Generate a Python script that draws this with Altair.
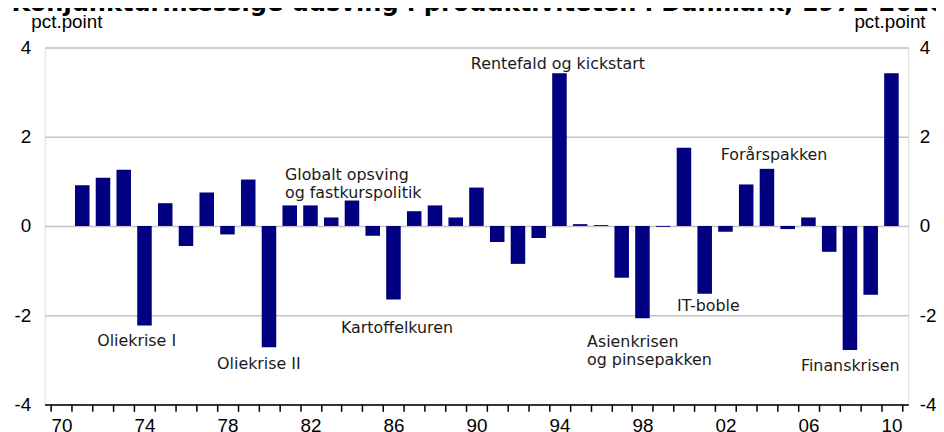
import altair as alt
import pandas as pd

# ---- data ----
years = list(range(1971, 2011))
values = [0.91, 1.08, 1.26, -2.23, 0.51, -0.45, 0.75, -0.19, 1.04, -2.72,
          0.46, 0.46, 0.19, 0.57, -0.22, -1.65, 0.33, 0.46, 0.19, 0.86,
          -0.36, -0.85, -0.27, 3.42, 0.04, 0.02, -1.16, -2.07, -0.02, 1.75,
          -1.52, -0.13, 0.93, 1.28, -0.07, 0.19, -0.58, -2.78, -1.54, 3.42]
axis_years = list(range(1970, 2011))
y_ticks = [-4, -2, 0, 2, 4]

ann_text = ["Oliekrise I", "Oliekrise II", "Globalt opsving\nog fastkurspolitik",
            "Kartoffelkuren", "Rentefald og kickstart", "Asienkrisen\nog pinsepakken",
            "IT-boble", "Forårspakken", "Finanskrisen"]
ann_x = [1972.22, 1978.0, 1981.27, 1983.97, 1990.23, 1995.83, 2000.17, 2002.27, 2006.14]
ann_y = [-2.58, -3.09, 1.13, -2.29, 3.62, -2.61, -1.80, 1.58, -3.13]

title_text = "Konjunkturmæssige udsving i produktiviteten i Danmark, 1971-2010"
unit_text = "pct.point"

bars_df = pd.DataFrame({"year": years, "value": values})
ann_df = pd.DataFrame({"label": ann_text, "xpos": ann_x, "ypos": ann_y})

FONT = "DejaVu Sans"
PAD_OUT = 0.31
yscale = alt.Scale(domain=[-4, 4], nice=False, zero=False)

bars = alt.Chart(bars_df).mark_bar(
    color="#000080", width=alt.RelativeBandSize(band=0.7)
).encode(
    x=alt.X("year:O",
            scale=alt.Scale(domain=axis_years, paddingInner=0, paddingOuter=PAD_OUT),
            axis=alt.Axis(title=None, tickBand="extent", labelAngle=0,
                          labelExpr="datum.value % 4 == 2 ? slice(toString(datum.value), 2) : ''",
                          labelOverlap=False, grid=False,
                          domainColor="black", domainWidth=1.5,
                          tickColor="black", tickWidth=1.5, tickSize=7,
                          labelPadding=5, labelFontSize=19, labelColor="black")),
    y=alt.Y("value:Q", scale=yscale,
            axis=alt.Axis(orient="left", values=y_ticks, grid=True,
                          gridColor="#c4c4c4", gridWidth=1.6,
                          ticks=False, domain=False,
                          labelExpr="toString(datum.value)",
                          labelPadding=14, labelFontSize=19, labelColor="black",
                          title=unit_text, titleAngle=0, titleAlign="left",
                          titleBaseline="middle", titleX=-14, titleY=-26,
                          titleFontSize=19, titleFontWeight="normal", titleColor="black"))
)

ann = alt.Chart(ann_df).mark_text(
    align="left", baseline="middle", font=FONT, fontSize=16, color="#1a1a1a",
    lineBreak="\n", lineHeight=17.5
).encode(
    x=alt.X("xpos:Q",
            scale=alt.Scale(domain=[1970 - PAD_OUT, 2011 + PAD_OUT], nice=False, zero=False),
            axis=None),
    y=alt.Y("ypos:Q", scale=yscale,
            axis=alt.Axis(orient="right", values=y_ticks, grid=False,
                          ticks=False, domain=False,
                          labelExpr="toString(datum.value)",
                          labelPadding=11, labelFontSize=19, labelColor="black",
                          title=unit_text, titleAngle=0, titleAlign="right",
                          titleBaseline="middle", titleX=17, titleY=-26,
                          titleFontSize=19, titleFontWeight="normal", titleColor="black")),
    text="label:N"
)

chart = alt.layer(bars, ann).resolve_scale(
    x="independent"
).resolve_axis(
    y="independent"
).properties(
    width=871, height=360,
    autosize=alt.AutoSizeParams(type="none"),
    padding={"left": 37, "top": 38, "right": 28, "bottom": 26},
    title=alt.TitleParams(text=title_text, font=FONT, fontSize=24.3, fontWeight="bold",
                          color="black", anchor="middle", baseline="alphabetic",
                          offset=0, dx=2, dy=23)
).configure_view(
    stroke=None
).configure_axis(
    labelFont=FONT, titleFont=FONT
).configure(background="white")

chart.save("out.html", embed_options={"renderer": "svg", "actions": False})
